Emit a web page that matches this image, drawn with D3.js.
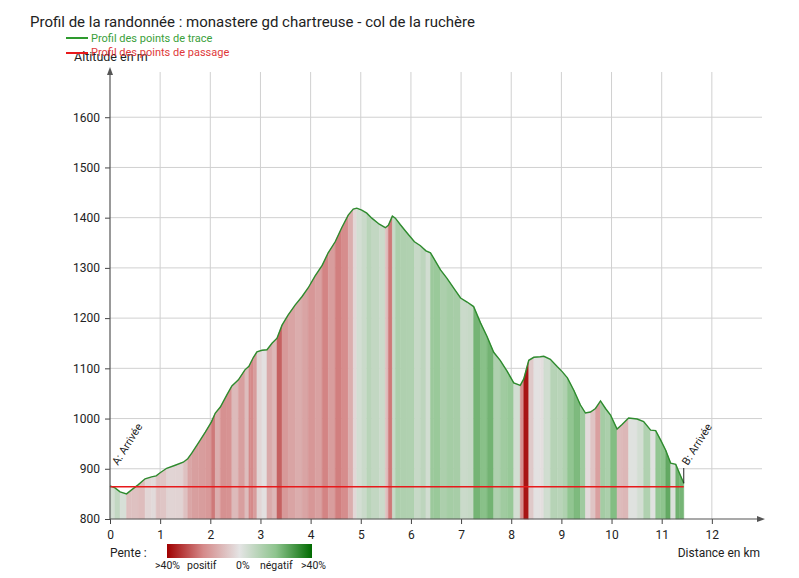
<!DOCTYPE html>
<html>
<head>
<meta charset="utf-8">
<script src="https://cdn.jsdelivr.net/npm/d3@7"></script>
<style>
body { margin: 0; background: #fff; }
svg { font-family: Roboto, "Noto Sans", sans-serif; }
</style>
</head>
<body>
<div id="chart"></div>
<script>
var distances = [0.00, 0.05, 0.10, 0.20, 0.33, 0.43, 0.56, 0.70, 0.83, 0.92, 1.00, 1.13, 1.30, 1.46, 1.55, 1.63, 1.76, 1.90,
  2.02, 2.10, 2.20, 2.33, 2.43, 2.56, 2.69, 2.77, 2.80, 2.86, 2.93, 3.03, 3.13, 3.23, 3.33, 3.43, 3.55, 3.69, 3.83, 3.95,
  4.09, 4.23, 4.35, 4.49, 4.62, 4.75, 4.85, 4.92, 5.02, 5.12, 5.22, 5.37, 5.49, 5.55, 5.63, 5.69, 5.79, 5.92, 6.07, 6.19,
  6.30, 6.39, 6.45, 6.59, 6.72, 6.85, 6.99, 7.12, 7.25, 7.39, 7.52, 7.65, 7.78, 7.92, 8.05, 8.18, 8.25, 8.35, 8.45, 8.58,
  8.65, 8.78, 8.92, 9.02, 9.12, 9.25, 9.38, 9.48, 9.58, 9.68, 9.78, 9.88, 9.98, 10.11, 10.21, 10.34, 10.51, 10.64, 10.78,
  10.88, 10.98, 11.08, 11.18, 11.28, 11.35, 11.44];
var altitudes = [866, 864, 862, 854, 850, 858, 868, 880, 884, 886, 892, 901, 907, 913, 920, 931, 951, 973,
  993, 1011, 1023, 1047, 1065, 1077, 1097, 1104, 1110, 1122, 1133, 1136, 1137, 1150, 1160, 1186, 1206, 1226, 1243, 1260,
  1284, 1305, 1330, 1352, 1380, 1405, 1417, 1419, 1415, 1409, 1399, 1387, 1380, 1385, 1403, 1399, 1386, 1370, 1352, 1344,
  1334, 1330, 1320, 1296, 1279, 1260, 1240, 1232, 1223, 1190, 1163, 1132, 1116, 1094, 1071, 1066, 1079, 1116, 1122, 1123,
  1124, 1118, 1103, 1093, 1081, 1056, 1027, 1011, 1013, 1020, 1035, 1020, 1007, 979, 988, 1001, 999, 994, 977,
  976, 957, 937, 911, 909, 892, 871];
var passageAlt = 864;
var yTicks = [800, 900, 1000, 1100, 1200, 1300, 1400, 1500, 1600];
var xTicks = [0, 1, 2, 3, 4, 5, 6, 7, 8, 9, 10, 11, 12];
var penteLabels = [">40%", "positif", "0%", "négatif", ">40%"];

var W = 799, H = 578;
var svg = d3.select("#chart").append("svg").attr("width", W).attr("height", H);

var x = d3.scaleLinear().domain([0, 13]).range([110, 762]);
var y = d3.scaleLinear().domain([800, 1700]).range([519, 67]);

// couleur de pente : rouge = montée, vert = descente
var penteColor = d3.scaleLinear()
  .domain([0.4, 0.2, 0, -0.2, -0.4])
  .range(["#a00000", "#d58a8a", "#e4e4e4", "#8ec48e", "#006a00"])
  .clamp(true);

// grille
svg.append("g").selectAll("line").data(yTicks.slice(1)).enter().append("line")
  .attr("x1", x(0)).attr("x2", 762)
  .attr("y1", function (d) { return y(d); }).attr("y2", function (d) { return y(d); })
  .attr("stroke", "#d0d0d0").attr("stroke-width", 1);
svg.append("g").selectAll("line").data(xTicks.slice(1)).enter().append("line")
  .attr("x1", function (d) { return x(d); }).attr("x2", function (d) { return x(d); })
  .attr("y1", 72).attr("y2", y(800))
  .attr("stroke", "#d0d0d0").attr("stroke-width", 1);

// bandes de pente
var pts = distances.map(function (d, i) { return { d: d, a: altitudes[i] }; });
var segs = pts.slice(0, -1).map(function (p, i) { return [p, pts[i + 1]]; });
function pente(s) { return (s[1].a - s[0].a) / ((s[1].d - s[0].d) * 1000); }
svg.append("g").selectAll("path").data(segs).enter().append("path")
  .attr("d", function (s) {
    return "M" + x(s[0].d) + "," + y(800) + "L" + x(s[0].d) + "," + y(s[0].a) +
      "L" + x(s[1].d) + "," + y(s[1].a) + "L" + x(s[1].d) + "," + y(800) + "Z";
  })
  .attr("fill", function (s) { return penteColor(pente(s)); })
  .attr("stroke", function (s) { return penteColor(pente(s)); })
  .attr("stroke-width", 0.5);

// profil
var line = d3.line().x(function (p) { return x(p.d); }).y(function (p) { return y(p.a); });
svg.append("path").datum(pts).attr("d", line)
  .attr("fill", "none").attr("stroke", "#2e8b2e").attr("stroke-width", 1.4);

// points de passage
svg.append("line")
  .attr("x1", x(0)).attr("x2", x(distances[distances.length - 1]))
  .attr("y1", y(passageAlt)).attr("y2", y(passageAlt))
  .attr("stroke", "#e8191b").attr("stroke-width", 1.5);

// axes
var yAxis = d3.axisLeft(y).tickValues(yTicks).tickFormat(d3.format("d")).tickSize(5).tickPadding(5);
var gy = svg.append("g").attr("transform", "translate(" + x(0) + ",0)").call(yAxis);
gy.select(".domain").remove();
var xAxis = d3.axisBottom(x).tickValues(xTicks).tickFormat(d3.format("d")).tickSize(5).tickPadding(6);
var gx = svg.append("g").attr("transform", "translate(0," + y(800) + ")").call(xAxis);
gx.select(".domain").remove();
svg.selectAll(".tick text").attr("font-size", 12).attr("fill", "#222")
  .attr("font-family", "Roboto, sans-serif");
svg.selectAll(".tick line").attr("stroke", "#444");

svg.append("line").attr("x1", x(0)).attr("x2", x(0)).attr("y1", y(800)).attr("y2", 70)
  .attr("stroke", "#555").attr("stroke-width", 1.2);
svg.append("path").attr("d", "M" + (x(0) - 3) + ",75L" + x(0) + ",67L" + (x(0) + 3) + ",75Z").attr("fill", "#555");
svg.append("line").attr("x1", x(0)).attr("x2", 760).attr("y1", y(800)).attr("y2", y(800))
  .attr("stroke", "#555").attr("stroke-width", 1.2);
svg.append("path").attr("d", "M757," + (y(800) - 3) + "L765," + y(800) + "L757," + (y(800) + 3) + "Z").attr("fill", "#555");

// étiquettes départ / arrivée
svg.append("text").attr("transform", "translate(" + (x(0) + 8) + ",466) rotate(-58)")
  .attr("font-size", 11).attr("fill", "#222").text("A: Arrivée");
var xEnd = x(distances[distances.length - 1]);
svg.append("line").attr("x1", xEnd).attr("x2", xEnd)
  .attr("y1", y(altitudes[altitudes.length - 1])).attr("y2", 468)
  .attr("stroke", "#222").attr("stroke-width", 1);
svg.append("text").attr("transform", "translate(" + (xEnd + 4) + ",466) rotate(-58)")
  .attr("font-size", 11).attr("fill", "#222").text("B: Arrivée");

// titres
svg.append("text").attr("x", 30).attr("y", 27).attr("font-size", 15).attr("fill", "#222")
  .text("Profil de la randonnée : monastere gd chartreuse - col de la ruchère");
svg.append("text").attr("x", 74).attr("y", 61).attr("font-size", 12.5).attr("fill", "#222")
  .text("Altitude en m");
svg.append("line").attr("x1", 66).attr("x2", 88).attr("y1", 38).attr("y2", 38)
  .attr("stroke", "#2e9a2e").attr("stroke-width", 2);
svg.append("text").attr("x", 91).attr("y", 42).attr("font-size", 11).attr("fill", "#3aa03a")
  .text("Profil des points de trace");
svg.append("line").attr("x1", 66).attr("x2", 88).attr("y1", 53).attr("y2", 53)
  .attr("stroke", "#e8191b").attr("stroke-width", 2);
svg.append("text").attr("x", 91).attr("y", 56).attr("font-size", 11).attr("fill", "#e0383a")
  .text("Profil des points de passage");

svg.append("text").attr("x", 760).attr("y", 557).attr("text-anchor", "end")
  .attr("font-size", 12).attr("fill", "#222").text("Distance en km");

// légende de pente
svg.append("text").attr("x", 110).attr("y", 557).attr("font-size", 12).attr("fill", "#222").text("Pente :");
var grad = svg.append("defs").append("linearGradient").attr("id", "pente");
[0.4, 0.2, 0, -0.2, -0.4].forEach(function (v, i) {
  grad.append("stop").attr("offset", (i * 25) + "%").attr("stop-color", penteColor(v));
});
svg.append("rect").attr("x", 167).attr("y", 544).attr("width", 145).attr("height", 14)
  .attr("fill", "url(#pente)");
var penteX = [155, 187, 236, 260, 301];
svg.append("g").selectAll("text").data(penteLabels).enter().append("text")
  .attr("x", function (d, i) { return penteX[i]; }).attr("y", 569)
  .attr("font-size", 10.5).attr("fill", "#222").text(function (d) { return d; });
</script>
</body>
</html>
